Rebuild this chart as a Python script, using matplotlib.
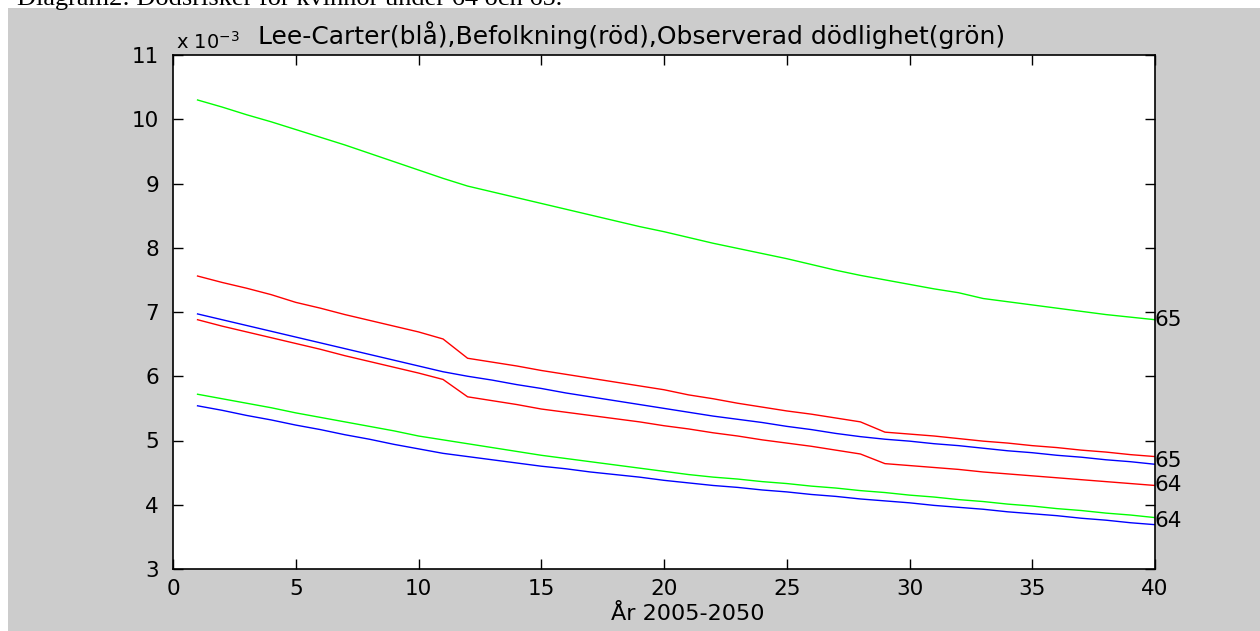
import matplotlib
matplotlib.use("Agg")
import matplotlib.pyplot as plt
import numpy as np

# years 1..40 (2005-2050), death risks in units of 1e-3
years = list(range(1, 41))

obs_65 = [10.30, 10.19, 10.07, 9.96, 9.84, 9.72, 9.60, 9.47, 9.34, 9.21,
          9.08, 8.96, 8.87, 8.78, 8.69, 8.60, 8.51, 8.42, 8.33, 8.25,
          8.16, 8.07, 7.99, 7.91, 7.83, 7.74, 7.65, 7.57, 7.50, 7.43,
          7.36, 7.30, 7.21, 7.16, 7.11, 7.06, 7.01, 6.96, 6.92, 6.88]

bef_65 = [7.56, 7.46, 7.37, 7.27, 7.15, 7.06, 6.96, 6.87, 6.78, 6.69,
          6.58, 6.28, 6.22, 6.16, 6.09, 6.03, 5.97, 5.91, 5.85, 5.79,
          5.71, 5.65, 5.58, 5.52, 5.46, 5.41, 5.35, 5.29, 5.13, 5.10,
          5.07, 5.03, 4.99, 4.96, 4.92, 4.89, 4.85, 4.82, 4.78, 4.75]

lc_65 = [6.97, 6.88, 6.79, 6.70, 6.61, 6.52, 6.43, 6.34, 6.25, 6.16,
         6.07, 6.00, 5.94, 5.87, 5.81, 5.74, 5.68, 5.62, 5.56, 5.50,
         5.44, 5.38, 5.33, 5.28, 5.22, 5.17, 5.11, 5.06, 5.02, 4.99,
         4.95, 4.92, 4.88, 4.84, 4.81, 4.77, 4.74, 4.70, 4.67, 4.63]

bef_64 = [6.88, 6.78, 6.69, 6.60, 6.51, 6.42, 6.32, 6.23, 6.14, 6.05,
          5.95, 5.68, 5.62, 5.56, 5.49, 5.44, 5.39, 5.34, 5.29, 5.23,
          5.18, 5.12, 5.07, 5.01, 4.96, 4.91, 4.85, 4.79, 4.64, 4.61,
          4.58, 4.55, 4.51, 4.48, 4.45, 4.42, 4.39, 4.36, 4.33, 4.30]

obs_64 = [5.72, 5.65, 5.58, 5.51, 5.43, 5.36, 5.29, 5.22, 5.15, 5.07,
          5.01, 4.95, 4.89, 4.83, 4.77, 4.72, 4.67, 4.62, 4.57, 4.52,
          4.47, 4.43, 4.40, 4.36, 4.33, 4.29, 4.26, 4.22, 4.19, 4.15,
          4.12, 4.08, 4.05, 4.01, 3.98, 3.94, 3.91, 3.87, 3.84, 3.80]

lc_64 = [5.54, 5.47, 5.39, 5.32, 5.24, 5.17, 5.09, 5.02, 4.94, 4.87,
         4.80, 4.75, 4.70, 4.65, 4.60, 4.56, 4.51, 4.47, 4.43, 4.38,
         4.34, 4.30, 4.27, 4.23, 4.20, 4.16, 4.13, 4.09, 4.06, 4.03,
         3.99, 3.96, 3.93, 3.89, 3.86, 3.83, 3.79, 3.76, 3.72, 3.69]

end_labels = ["65", "65", "64", "64"]
end_values = [obs_65[-1], lc_65[-1] + 0.05, bef_64[-1], lc_64[-1] + 0.05]

x_ticks = [0, 5, 10, 15, 20, 25, 30, 35, 40]
y_ticks = [3, 4, 5, 6, 7, 8, 9, 10, 11]

plt.rcParams['font.family'] = ['DejaVu Sans']

W, H = 1260, 631
fig = plt.figure(figsize=(W / 100, H / 100), dpi=100)
fig.patch.set_facecolor("white")

# grey MATLAB figure area (behind the axes)
fig.patches.append(plt.Rectangle((8 / W, 0), 1 - 8 / W, 1 - 8 / H,
                                 transform=fig.transFigure, facecolor="#cccccc",
                                 edgecolor="none", zorder=-10))

fig.text(17 / W, 1 - 5 / H, "Diagram2: Dödsrisker för kvinnor under 64 och 65.",
         family="Liberation Serif", fontsize=19, va="baseline", ha="left")

ax = fig.add_axes([173 / W, 1 - 569 / H, 982 / W, 514 / H])
ax.set_zorder(1)
ax.set_facecolor("white")

lw = 1.0
ax.plot(years, obs_65, color="#00ff00", lw=lw)
ax.plot(years, bef_65, color="#ff0000", lw=lw)
ax.plot(years, lc_65, color="#0000ff", lw=lw)
ax.plot(years, bef_64, color="#ff0000", lw=lw)
ax.plot(years, obs_64, color="#00ff00", lw=lw)
ax.plot(years, lc_64, color="#0000ff", lw=lw)

for lab, val in zip(end_labels, end_values):
    ax.text(40, val, lab, fontsize=15.5, ha="left", va="center", clip_on=False)

ax.set_xlim(0, 40)
ax.set_ylim(3, 11)
ax.set_xticks(x_ticks)
ax.set_yticks(y_ticks)
ax.tick_params(direction="in", length=7, width=1, top=True, right=True,
               labelsize=15.5)
ax.tick_params(axis="x", pad=7)
ax.tick_params(axis="y", pad=10)
for s in ax.spines.values():
    s.set_linewidth(1.2)

fig.text(688 / W, 1 - 620 / H, "År 2005-2050", fontsize=16, ha="center",
         va="baseline")
fig.text(176 / W, 1 - 49 / H, r"x 10$^{-3}$", fontsize=14, ha="left",
         va="baseline")
fig.text(632 / W, 1 - 44 / H,
         "Lee-Carter(blå),Befolkning(röd),Observerad dödlighet(grön)",
         fontsize=18, ha="center", va="baseline")

fig.savefig("out.png", dpi=100)
